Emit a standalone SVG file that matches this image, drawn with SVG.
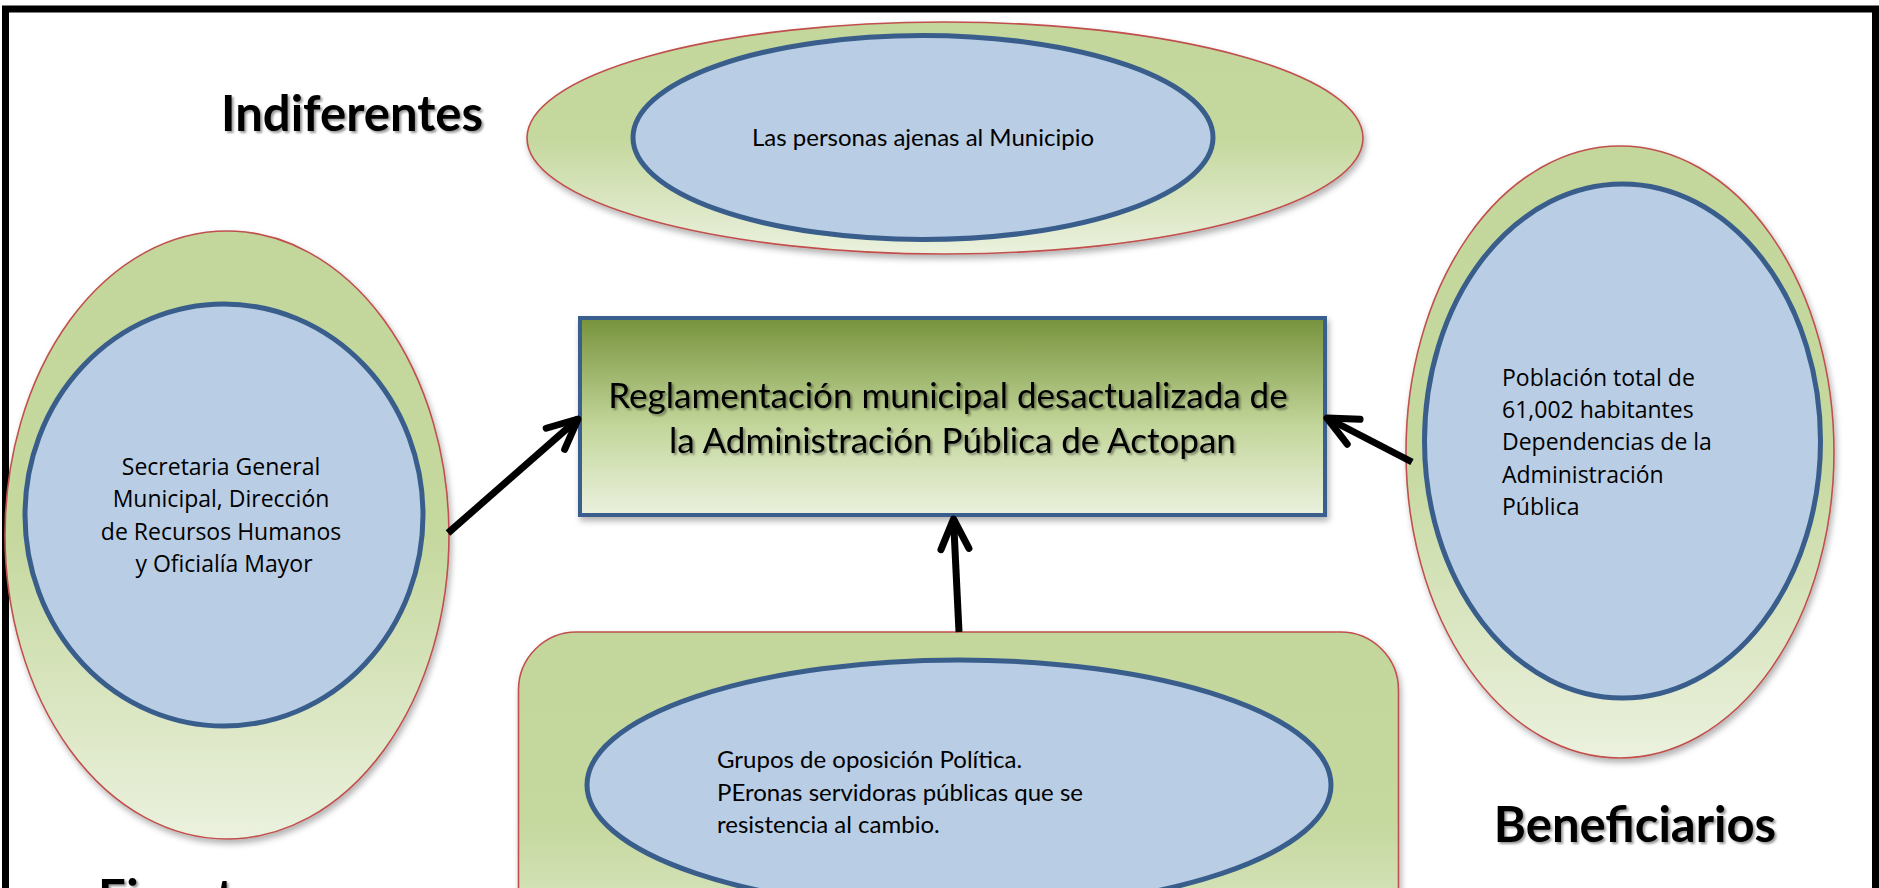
<svg xmlns="http://www.w3.org/2000/svg" width="1879" height="888" viewBox="0 0 1879 888">
<defs>
<linearGradient id="gOuter" x1="0" y1="0" x2="0" y2="1">
<stop offset="0" stop-color="#c3d69b"/>
<stop offset="0.5" stop-color="#c5d89e"/>
<stop offset="1" stop-color="#ebf1de"/>
</linearGradient>
<linearGradient id="gRect" x1="0" y1="0" x2="0" y2="1">
<stop offset="0" stop-color="#77933c"/>
<stop offset="0.55" stop-color="#c3d69b"/>
<stop offset="1" stop-color="#ebf1de"/>
</linearGradient>
<filter id="shadow" x="-10%" y="-10%" width="120%" height="120%">
<feDropShadow dx="2" dy="4" stdDeviation="3" flood-color="#000" flood-opacity="0.3"/>
</filter>
<filter id="tshadow" x="-5%" y="-20%" width="110%" height="140%">
<feDropShadow dx="2" dy="2" stdDeviation="1.2" flood-color="#000" flood-opacity="0.4"/>
</filter>
<marker id="head" markerUnits="userSpaceOnUse" markerWidth="60" markerHeight="60" viewBox="-40 -30 60 60" refX="0" refY="0" orient="auto" overflow="visible">
<path d="M-30,-14 L0,0 L-30,14" fill="none" stroke="#000" stroke-width="7" stroke-linecap="round" stroke-linejoin="round"/>
</marker>
</defs>
<style>
.outer{fill:url(#gOuter);stroke:#c0504d;stroke-width:1.6;filter:url(#shadow)}
.inner{fill:#b9cde5;stroke:#3a5e8c;stroke-width:5}
.title{font-family:Lato,"Liberation Sans",sans-serif;font-weight:bold;font-size:49px;fill:#000;filter:url(#tshadow)}
.body{font-family:"Open Sans","Liberation Sans",sans-serif;font-size:23px;fill:#000}
.body2{font-family:Lato,"Liberation Sans",sans-serif;font-size:24px;fill:#000}
.conn{stroke:#000;stroke-width:7;fill:none;marker-end:url(#head)}
</style>
<rect x="0" y="0" width="1879" height="888" fill="#fff"/>
<rect x="5.5" y="9" width="1870" height="900" fill="none" stroke="#000" stroke-width="7"/>

<g id="label-indiferentes"><text class="title" x="352" y="131" text-anchor="middle">Indiferentes</text></g>
<g id="label-beneficiarios"><text class="title" x="1635" y="842" text-anchor="middle">Beneficiarios</text></g>
<g id="label-ejecutores"><text class="title" x="98" y="915">Ejecutores</text></g>

<g id="node-indiferentes">
<ellipse class="outer" cx="945" cy="138" rx="418" ry="116"/>
<ellipse class="inner" cx="923" cy="137.5" rx="290" ry="102"/>
<text class="body2" x="923" y="146" text-anchor="middle" font-size="24.5">Las personas ajenas al Municipio</text>
</g>

<g id="node-ejecutores">
<ellipse class="outer" cx="227" cy="535" rx="222" ry="304"/>
<ellipse class="inner" cx="224" cy="515" rx="199" ry="211"/>
<text class="body" text-anchor="middle" font-size="24">
<tspan x="224" y="475">Secretaria General</tspan>
<tspan x="224" y="507">Municipal, Dirección</tspan>
<tspan x="224" y="540">de Recursos Humanos</tspan>
<tspan x="224" y="572">y Oficialía Mayor</tspan>
</text>
</g>

<g id="node-beneficiarios">
<ellipse class="outer" cx="1620" cy="452" rx="214" ry="306"/>
<ellipse class="inner" cx="1622.5" cy="441" rx="198" ry="257"/>
<text class="body">
<tspan x="1502" y="386">Población total de</tspan>
<tspan x="1502" y="418">61,002 habitantes</tspan>
<tspan x="1502" y="450">Dependencias de la</tspan>
<tspan x="1502" y="483">Administración</tspan>
<tspan x="1502" y="515">Pública</tspan>
</text>
</g>

<g id="node-oponentes">
<rect class="outer" x="518.5" y="632" width="880" height="380" rx="58" ry="58"/>
<ellipse class="inner" cx="959" cy="785" rx="372" ry="125"/>
<text class="body2">
<tspan x="717" y="768">Grupos de oposición Política.</tspan>
<tspan x="717" y="801">PEronas servidoras públicas que se</tspan>
<tspan x="717" y="833">resistencia al cambio.</tspan>
</text>
</g>

<g id="node-problema">
<rect x="580" y="318" width="745" height="197" fill="url(#gRect)" stroke="#3a5e8c" stroke-width="4" filter="url(#shadow)"/>
<text font-family="Lato,'Liberation Sans',sans-serif" font-size="35" fill="#000" text-anchor="middle" filter="url(#tshadow)">
<tspan x="952.5" y="408">Reglamentación municipal desactualizada de</tspan>
<tspan x="952.5" y="453">la Administración Pública de Actopan</tspan>
</text>
</g>

<g id="connectors">
<line class="conn" x1="448" y1="533" x2="578" y2="419"/>
<line class="conn" x1="1412" y1="462" x2="1327" y2="418"/>
<line class="conn" x1="959" y1="632" x2="953.5" y2="519"/>
</g>
</svg>
